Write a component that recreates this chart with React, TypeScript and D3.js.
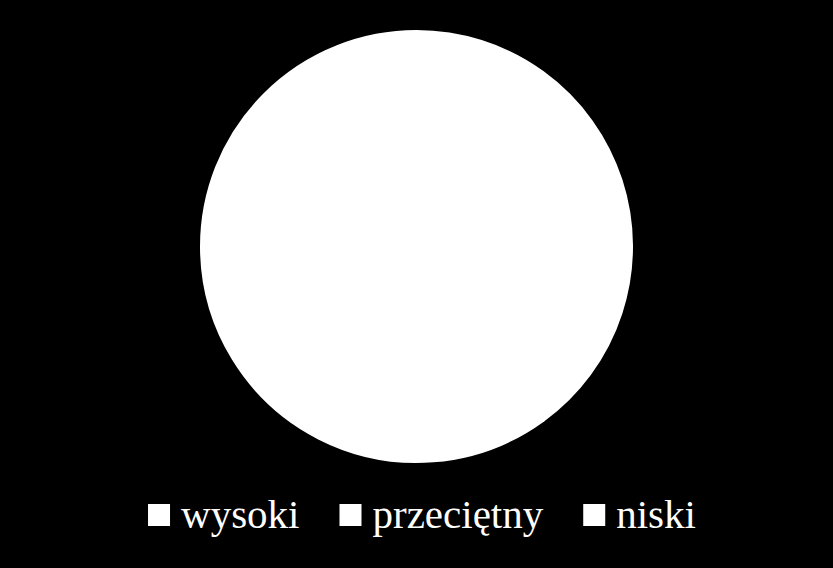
import { useEffect, useRef } from "react";
import * as d3 from "d3";

const categories = ["wysoki", "przeciętny", "niski"];
const values = [40, 35, 25];
const colors = ["#ffffff", "#ffffff", "#ffffff"];

const W = 833;
const H = 568;

export default function App() {
  const ref = useRef<SVGSVGElement>(null);

  useEffect(() => {
    const svg = d3.select(ref.current);
    svg.selectAll("*").remove();

    svg.append("rect").attr("width", W).attr("height", H).attr("fill", "#000");

    const cx = 416.5;
    const cy = 246.5;
    const r = 215.5;

    const pie = d3.pie<number>().sort(null)(values);
    const arc = d3.arc<d3.PieArcDatum<number>>().innerRadius(0).outerRadius(r);

    // slices share one colour, so a matching stroke hides the seams
    svg
      .append("g")
      .attr("transform", `translate(${cx},${cy})`)
      .selectAll("path")
      .data(pie)
      .join("path")
      .attr("d", arc)
      .attr("fill", (_, i) => colors[i])
      .attr("stroke", (_, i) => colors[i])
      .attr("stroke-width", 2)
      .attr("stroke-linejoin", "round");

    // legend, laid out left to right then centred
    const box = 22;
    const pad = 11;
    const gap = 40;
    const legend = svg.append("g");
    let x = 0;
    categories.forEach((c, i) => {
      const g = legend.append("g").attr("transform", `translate(${x},0)`);
      g.append("rect")
        .attr("y", -box / 2)
        .attr("width", box)
        .attr("height", box)
        .attr("fill", colors[i]);
      const t = g
        .append("text")
        .attr("x", box + pad)
        .attr("y", 13)
        .attr("fill", "#fff")
        .style("font-family", "'Liberation Serif', 'DejaVu Serif', serif")
        .style("font-size", "41px")
        .text(c);
      const w = (t.node() as SVGTextElement).getComputedTextLength();
      x += box + pad + w + gap;
    });
    const total = x - gap;
    legend.attr("transform", `translate(${422 - total / 2},515)`);
  }, []);

  return (
    <div style={{ position: "fixed", left: 0, top: 0 }}>
      <svg ref={ref} width={W} height={H} style={{ display: "block" }} />
    </div>
  );
}
